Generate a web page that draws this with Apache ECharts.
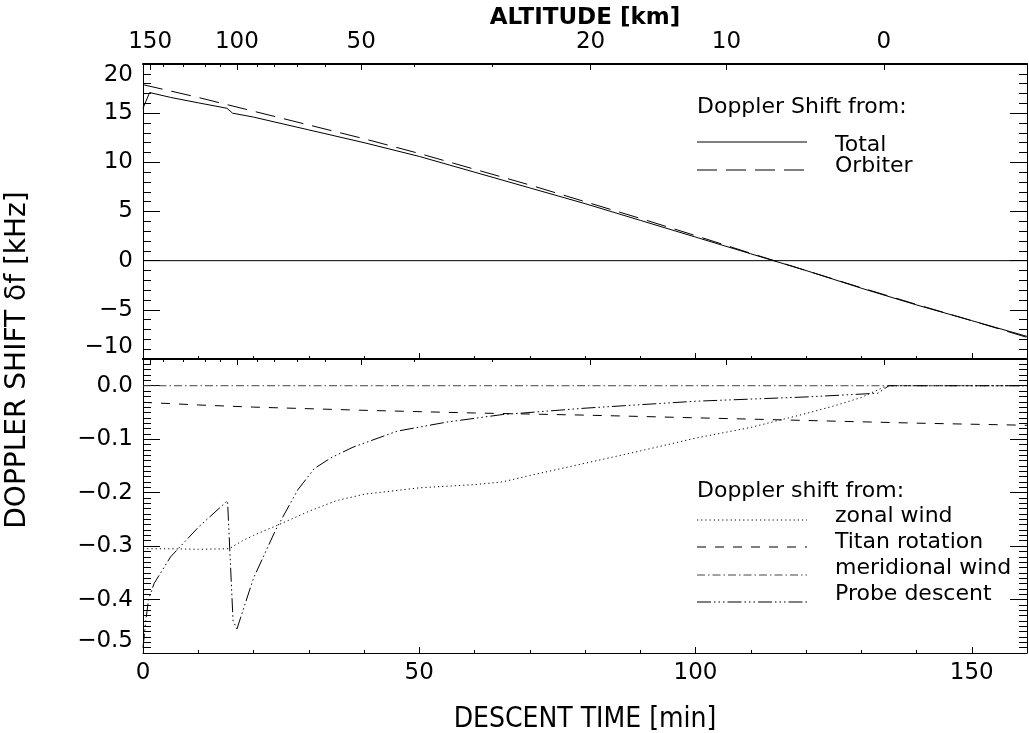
<!DOCTYPE html>
<html><head><meta charset="utf-8">
<script src="https://cdn.jsdelivr.net/npm/echarts@6/dist/echarts.min.js"></script>
<style>html,body{margin:0;padding:0;background:#fff}#c{width:1029px;height:733px}</style>
</head><body><div id="c"></div>
<script>
// ---- data ----
const totalTime  = [0, 1.2, 5, 10, 15.2, 16.2, 20, 30, 40, 50, 60, 70, 80, 90, 100, 110, 120, 130, 140, 150, 160];
const totalShift = [15.5, 17.1, 16.6, 16.05, 15.5, 15.0, 14.6, 13.3, 12.0, 10.6, 9.0, 7.4, 5.8, 4.1, 2.4, 0.7, -1.0, -2.8, -4.5, -6.1, -7.7];
const orbiterTime  = [0, 10, 20, 30, 40, 50, 60, 70, 80, 90, 100, 110, 120, 130, 140, 150, 160];
const orbiterShift = [17.9, 16.6, 15.2, 13.8, 12.4, 10.9, 9.3, 7.7, 6.0, 4.3, 2.55, 0.75, -1.0, -2.75, -4.45, -6.1, -7.8];
const zeroTime = [0, 160];
const zeroShift = [0, 0];

const zonalTime  = [0, 5, 10, 15.6, 18, 20, 25, 30, 35, 40, 45, 50, 55, 60, 65, 70, 80, 90, 100, 110, 115, 120, 125, 130, 134, 135, 160];
const zonalShift = [-0.305, -0.305, -0.306, -0.305, -0.29, -0.28, -0.258, -0.235, -0.215, -0.203, -0.197, -0.191, -0.188, -0.185, -0.180, -0.168, -0.145, -0.122, -0.098, -0.078, -0.065, -0.052, -0.038, -0.022, -0.003, 0, 0];
const titanTime  = [0, 10, 20, 40, 60, 80, 100, 120, 140, 160];
const titanShift = [-0.031, -0.036, -0.040, -0.046, -0.051, -0.055, -0.060, -0.065, -0.070, -0.074];
const meridTime  = [0, 160];
const meridShift = [0, 0];
const probeTime  = [0, 0.5, 1, 2, 5, 10, 15.3, 16.3, 17, 20, 24, 28, 31, 34, 38, 46, 55, 65, 80, 100, 120, 133, 135, 160];
const probeShift = [-0.49, -0.44, -0.40, -0.37, -0.32, -0.265, -0.215, -0.44, -0.455, -0.36, -0.27, -0.195, -0.155, -0.135, -0.115, -0.085, -0.068, -0.054, -0.042, -0.029, -0.021, -0.014, 0, 0];

// altitude axis (km) placed at descent times (min)
const altTickKm   = [150, 140, 130, 120, 110, 100, 90, 80, 70, 60, 50, 40, 30, 20, 10, 0];
const altTickTime = [1.3, 3.6, 7.2, 11.2, 13.9, 17.0, 20.6, 23.8, 28.0, 32.9, 39.5, 49.1, 63.2, 81.0, 105.6, 134.1];
const altLabelKm  = [150, 100, 50, 20, 10, 0];

const timeTicks = [0, 50, 100, 150];
const topTicks = [-10, -5, 0, 5, 10, 15, 20];
const botTicks = [-0.5, -0.4, -0.3, -0.2, -0.1, 0.0];

// ---- build ----
const altLabelTime = altLabelKm.map(k => altTickTime[altTickKm.indexOf(k)]);
const pairs = (xs, ys) => xs.map((x, i) => [x, ys[i]]);
const minus = s => String(s).replace('-', '\u2212');
const FONT = 'DejaVu Sans';
const BLACK = '#000';

function xAx(grid, pos, o) {
  return Object.assign({
    gridIndex: grid, type: 'value', position: pos, min: 0, max: 160, interval: 50,
    axisLine: {onZero: false, lineStyle: {color: BLACK, width: 1}},
    axisTick: {inside: true, length: 6, lineStyle: {color: BLACK}},
    minorTick: {show: true, splitNumber: 5, length: 3, lineStyle: {color: BLACK}},
    axisLabel: {show: false},
    splitLine: {show: false}, minorSplitLine: {show: false}
  }, o);
}
function altAx(grid, values, len, lineShow, o) {
  return Object.assign({
    gridIndex: grid, type: 'value', position: 'top', min: 0, max: 160,
    axisLine: {show: lineShow, onZero: false, lineStyle: {color: BLACK, width: 2}},
    axisTick: {inside: true, length: len, customValues: values, lineStyle: {color: BLACK}},
    minorTick: {show: false},
    axisLabel: {show: false},
    splitLine: {show: false}
  }, o);
}
function yAx(grid, pos, min, max, interval, split, o) {
  return Object.assign({
    gridIndex: grid, type: 'value', position: pos, min: min, max: max, interval: interval,
    axisLine: {onZero: false, lineStyle: {color: BLACK, width: 1}},
    axisTick: {inside: true, length: 17, lineStyle: {color: BLACK}},
    minorTick: {show: true, splitNumber: split, length: 8, lineStyle: {color: BLACK}},
    axisLabel: {show: false},
    splitLine: {show: false}, minorSplitLine: {show: false}
  }, o);
}
const lbl = {color: BLACK, fontFamily: FONT, fontSize: 23};

const ln = (type, color) => ({color: color || BLACK, width: 1, type: type});
function ser(name, xi, yi, xs, ys, type, color) {
  return {name, type: 'line', xAxisIndex: xi, yAxisIndex: yi, data: pairs(xs, ys),
    symbol: 'none', lineStyle: ln(type, color), silent: true, z: 3};
}

const option = {
  animation: false,
  backgroundColor: '#fff',
  grid: [
    {left: 143, top: 64, width: 884, height: 295, outerBoundsMode: 'none', containLabel: false},
    {left: 143, top: 359, width: 884, height: 294, outerBoundsMode: 'none', containLabel: false}
  ],
  xAxis: [
    xAx(0, 'bottom', {axisLine: {onZero: false, lineStyle: {color: BLACK, width: 2}}}),
    altAx(0, altLabelTime, 6, true, {
      axisLabel: Object.assign({show: true, customValues: altLabelTime, margin: 10,
        formatter: v => String(altTickKm[altTickTime.indexOf(v)])}, lbl),
      name: 'ALTITUDE [km]', nameLocation: 'middle', nameGap: 34,
      nameTextStyle: {color: BLACK, fontFamily: FONT, fontSize: 23, fontWeight: 'bold'}
    }),
    altAx(0, altTickTime, 3, false),
    altAx(1, altLabelTime, 6, true),
    altAx(1, altTickTime, 3, false),
    xAx(1, 'bottom', {
      axisLabel: Object.assign({show: true, margin: 9, customValues: timeTicks}, lbl),
      name: 'DESCENT TIME [min]', nameLocation: 'middle', nameGap: 53,
      nameTextStyle: {color: BLACK, fontFamily: 'DejaVu Sans Condensed, DejaVu Sans', fontSize: 28}
    })
  ],
  yAxis: [
    yAx(0, 'left', -10, 20, 5, 5, {axisLabel: Object.assign({show: true, margin: 10,
      verticalAlignMaxLabel: 'top', verticalAlignMinLabel: 'bottom',
      customValues: topTicks, formatter: v => minus(v)}, lbl)}),
    yAx(0, 'right', -10, 20, 5, 5),
    yAx(1, 'left', -0.5, 0.05, 0.1, 10, {axisLabel: Object.assign({show: true, margin: 10,
      verticalAlignMinLabel: 'bottom', customValues: botTicks,
      formatter: v => minus(Number(v).toFixed(1))}, lbl)}),
    yAx(1, 'right', -0.5, 0.05, 0.1, 10)
  ],
  series: [
    ser('zero', 0, 0, zeroTime, zeroShift, 'solid'),
    ser('Total', 0, 0, totalTime, totalShift, 'solid'),
    ser('Orbiter', 0, 0, orbiterTime, orbiterShift, [20, 9]),
    ser('meridional wind', 5, 2, meridTime, meridShift, [8, 3, 1.5, 3], '#444'),
    ser('Titan rotation', 5, 2, titanTime, titanShift, [9, 9]),
    ser('zonal wind', 5, 2, zonalTime, zonalShift, [1.2, 3]),
    ser('Probe descent', 5, 2, probeTime, probeShift, [14, 3, 1.5, 3, 1.5, 3, 1.5, 3])
  ],
  graphic: (function () {
    const g = [];
    const txt = (x, y, s, size, extra) => g.push(Object.assign({type: 'text', x: x, y: y, silent: true,
      style: {text: s, fill: BLACK, font: size + 'px "DejaVu Sans"', textAlign: 'left', textVerticalAlign: 'middle',
        align: 'left', verticalAlign: 'middle'}}, extra || {}));
    const seg = (y, dash, color) => g.push({type: 'line', silent: true,
      shape: {x1: 697, y1: y, x2: 807, y2: y},
      style: {stroke: color || BLACK, lineWidth: 1, lineDash: dash}});
    // top legend
    txt(697, 107, 'Doppler Shift from:', 22);
    seg(142, null); txt(835, 145, 'Total', 22);
    seg(170, [20, 9]); txt(835, 166, 'Orbiter', 22);
    // bottom legend
    txt(697, 491, 'Doppler shift from:', 22);
    seg(520, [1.2, 3]); txt(835, 516, 'zonal wind', 22);
    seg(547, [9, 9]); txt(835, 542, 'Titan rotation', 22);
    seg(575, [8, 3, 1.5, 3], '#444'); txt(835, 568, 'meridional wind', 22);
    seg(602, [14, 3, 1.5, 3, 1.5, 3, 1.5, 3]); txt(835, 594, 'Probe descent', 22);
    // y axis title
    g.push({type: 'text', x: 18, y: 360, rotation: Math.PI / 2, silent: true,
      style: {text: 'DOPPLER SHIFT \u03b4f [kHz]', fill: BLACK, font: '28px "DejaVu Sans"',
        textAlign: 'center', textVerticalAlign: 'middle', align: 'center', verticalAlign: 'middle'}});
    return g;
  })()
};
const chart = echarts.init(document.getElementById('c'), null, {renderer: 'canvas'});
chart.setOption(option);
</script></body></html>
